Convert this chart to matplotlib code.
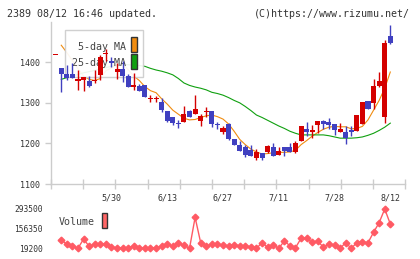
import numpy as np
import matplotlib
matplotlib.use("Agg")
import matplotlib.pyplot as plt
from matplotlib.patches import Rectangle

# candle data (index 0 is the stray dash at the left edge)
opens = [1418, 1385, 1371, 1371, 1355, 1356, 1354, 1353, 1369, 1421,
         1403, 1375, 1383, 1365, 1338, 1342, 1344, 1309, 1309, 1303,
         1280, 1266, 1249, 1254, 1280, 1272, 1256, 1277, 1280, 1249,
         1229, 1248, 1212, 1196, 1192, 1184, 1163, 1176, 1180, 1190,
         1172, 1190, 1190, 1180, 1207, 1236, 1227, 1246, 1255, 1253,
         1248, 1229, 1227, 1232, 1231, 1248, 1305, 1299, 1342, 1264,
         1465]
highs = [1418, 1385, 1393, 1397, 1381, 1363, 1365, 1381, 1418, 1432,
         1414, 1398, 1402, 1370, 1373, 1347, 1344, 1319, 1317, 1311,
         1280, 1266, 1258, 1292, 1282, 1319, 1273, 1289, 1280, 1254,
         1243, 1250, 1212, 1206, 1196, 1196, 1186, 1176, 1196, 1200,
         1192, 1192, 1200, 1206, 1244, 1253, 1245, 1256, 1258, 1263,
         1248, 1250, 1243, 1243, 1270, 1303, 1305, 1359, 1377, 1455,
         1492]
lows = [1418, 1326, 1356, 1362, 1332, 1330, 1338, 1348, 1356, 1402,
        1389, 1360, 1351, 1338, 1332, 1328, 1315, 1301, 1301, 1278,
        1254, 1245, 1237, 1254, 1264, 1272, 1243, 1264, 1240, 1235,
        1223, 1208, 1196, 1182, 1167, 1169, 1159, 1158, 1177, 1170,
        1172, 1170, 1180, 1177, 1207, 1218, 1213, 1225, 1236, 1235,
        1221, 1229, 1199, 1218, 1231, 1248, 1285, 1285, 1338, 1250,
        1446]
closes = [1418, 1370, 1362, 1362, 1359, 1363, 1342, 1355, 1412, 1423,
          1398, 1384, 1365, 1338, 1344, 1330, 1315, 1311, 1311, 1282,
          1256, 1250, 1247, 1272, 1266, 1284, 1268, 1279, 1247, 1246,
          1239, 1210, 1196, 1182, 1172, 1169, 1179, 1163, 1194, 1170,
          1181, 1182, 1180, 1200, 1243, 1229, 1233, 1255, 1248, 1246,
          1232, 1235, 1214, 1227, 1270, 1303, 1285, 1342, 1354, 1448,
          1448]

# moving averages and volume, candles 1..60
ma5 = [1442, 1424, 1404, 1384, 1366, 1358, 1355, 1360, 1379, 1386,
       1394, 1396, 1382, 1366, 1355, 1340, 1330, 1325, 1310, 1297,
       1282, 1272, 1262, 1258, 1259, 1264, 1268, 1270, 1266, 1260,
       1248, 1230, 1210, 1197, 1186, 1179, 1174, 1175, 1177, 1178,
       1178, 1179, 1183, 1197, 1207, 1218, 1227, 1235, 1240, 1242,
       1241, 1241, 1236, 1237, 1242, 1258, 1282, 1306, 1336, 1376]
ma25 = [1358, 1362, 1366, 1370, 1374, 1377, 1380, 1384, 1387, 1390,
        1392, 1394, 1394, 1393, 1392, 1390, 1385, 1381, 1378, 1374,
        1369, 1360, 1349, 1343, 1339, 1336, 1332, 1326, 1323, 1319,
        1313, 1306, 1300, 1291, 1281, 1270, 1264, 1257, 1250, 1243,
        1237, 1230, 1225, 1221, 1221, 1221, 1221, 1221, 1219, 1216,
        1213, 1213, 1213, 1214, 1216, 1220, 1225, 1232, 1240, 1250]
volume = [77000, 48000, 36000, 19200, 84000, 33000, 49000, 49000, 49000, 26000,
          24000, 23000, 23000, 35000, 23000, 19200, 23000, 23000, 33000, 49000,
          33000, 58000, 40000, 19200, 235000, 58000, 35000, 47000, 49000, 40000,
          35000, 42000, 37000, 35000, 30000, 19500, 58000, 26000, 42000, 19500,
          70000, 37000, 23000, 89000, 89000, 61000, 70000, 26000, 49000, 42000,
          19500, 58000, 19500, 58000, 65000, 58000, 131000, 198000, 293500, 189000]

date_pos = [10, 20, 30, 40, 50, 60]
date_labels = ["5/30", "6/13", "6/27", "7/11", "7/28", "8/12"]
vol_ticks = [19200, 156350, 293500]

RED = "#d40000"
BLUE = "#4040c0"
ORANGE = "#f08c10"
GREEN = "#10a010"
VOLC = "#ff5a64"
GRAY = "#cccccc"
TXT = "#333333"
MONO = "DejaVu Sans Mono"

fig = plt.figure(figsize=(4.2, 2.59), dpi=100)
W, H = 420.0, 259.0

def fx(px):
    return px / W

def fy(py):
    return 1 - py / H

ax = fig.add_axes([fx(51), fy(184), fx(405.3 - 51), (184 - 21.7) / H])
xlo, xhi = -0.84, 62.69
ax.set_xlim(xlo, xhi)
ax.set_ylim(1100, 1500)

idx = np.arange(len(opens))
o = np.array(opens)
c = np.array(closes)
up = c >= o
cols = [RED if u else BLUE for u in up]
bottoms = np.minimum(o, c)
heights = np.maximum(np.abs(c - o), 3)

# MA lines under legend box, candles on top
n = np.arange(1, len(opens))
ax.plot(n, ma5, color=ORANGE, lw=0.8, zorder=1)
ax.plot(n, ma25, color=GREEN, lw=0.8, zorder=1)
ax.vlines(idx, lows, highs, colors=cols, lw=1, zorder=4)
ax.bar(idx, heights, bottom=bottoms, width=0.9, color=cols, lw=0, zorder=5)

for s in ["top", "right"]:
    ax.spines[s].set_visible(False)
for s in ["left", "bottom"]:
    ax.spines[s].set_color(GRAY)
    ax.spines[s].set_linewidth(1)

ax.set_xticks(np.linspace(xlo, xhi, 12))
ax.set_xticklabels([])
ax.tick_params(axis="x", which="major", direction="inout", length=6.5, color=GRAY, width=1)
ax.set_xticks(date_pos, minor=True)
ax.set_xticklabels(date_labels, minor=True, fontsize=6, family=MONO, color=TXT)
ax.tick_params(axis="x", which="minor", length=0, pad=7)

ax.set_yticks([1100, 1200, 1300, 1400])
ax.set_yticklabels(["1100", "1200", "1300", "1400"], fontsize=6, family=MONO, color=TXT)
ax.tick_params(axis="y", direction="out", length=4.3, color=GRAY, width=1, pad=3.5)

# legend box
ax.add_patch(Rectangle((fx(65), fy(77.3)), fx(78.3), 47.3 / H, transform=fig.transFigure,
                       facecolor="white", alpha=0.92, edgecolor=GRAY, lw=1, zorder=2, clip_on=False))
ax.text(fx(125.5), fy(46.5), "5-day MA", transform=fig.transFigure, ha="right", va="center",
        fontsize=7.2, family=MONO, color="#444444", zorder=3)
ax.text(fx(125.5), fy(63), "25-day MA", transform=fig.transFigure, ha="right", va="center",
        fontsize=7.2, family=MONO, color="#444444", zorder=3)
ax.add_patch(Rectangle((fx(131), fy(52.3)), fx(6.3), 15 / H, transform=fig.transFigure,
                       facecolor=ORANGE, edgecolor=TXT, lw=1, zorder=3, clip_on=False))
ax.add_patch(Rectangle((fx(131), fy(69)), fx(6.3), 15 / H, transform=fig.transFigure,
                       facecolor=GREEN, edgecolor=TXT, lw=1, zorder=3, clip_on=False))

# volume panel
axv = fig.add_axes([fx(51), fy(248.3), fx(405.3 - 51), (248.3 - 209) / H])
axv.set_xlim(xlo, xhi)
axv.set_ylim(19200, 293500)
axv.plot(n, volume, color=VOLC, lw=1, marker="D", markersize=3.4, clip_on=False)
for s in axv.spines.values():
    s.set_visible(False)
axv.set_xticks([])
axv.set_yticks(vol_ticks)
axv.set_yticklabels([str(v) for v in vol_ticks], fontsize=5.7, family=MONO, color=TXT)
axv.tick_params(axis="y", length=0, pad=5.8)
axv.patch.set_visible(False)

fig.text(fx(59), fy(221.7), "Volume", ha="left", va="center", fontsize=7.2, family=MONO, color="#444444")
fig.patches.append(Rectangle((fx(101.7), fy(228)), fx(5.6), 15 / H, transform=fig.transFigure,
                             facecolor="#ff6666", edgecolor=TXT, lw=1, figure=fig))

fig.text(fx(7), fy(14), "2389 08/12 16:46 updated.", ha="left", va="center",
         fontsize=7.2, family=MONO, color=TXT)
fig.text(fx(410), fy(14), "(C)https://www.rizumu.net/", ha="right", va="center",
         fontsize=7.2, family=MONO, color=TXT)

fig.savefig("out.png", dpi=100)
